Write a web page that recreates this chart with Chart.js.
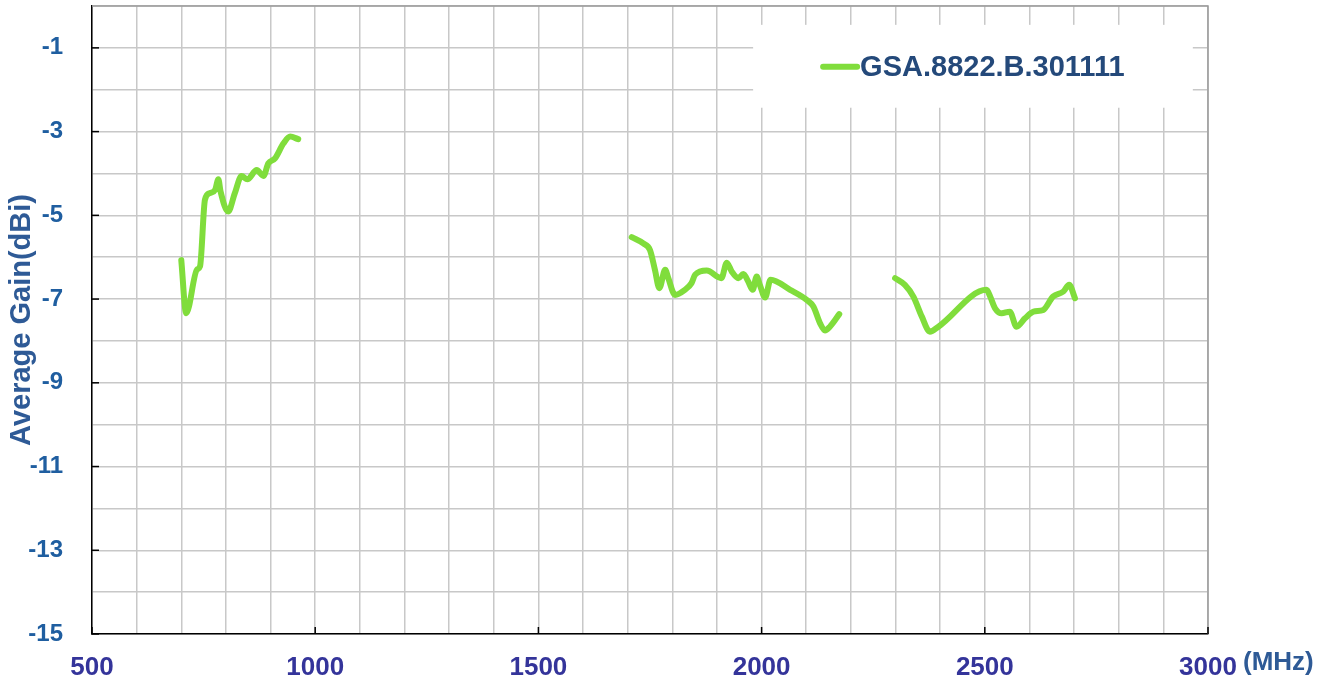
<!DOCTYPE html>
<html><head><meta charset="utf-8">
<script src="https://cdn.jsdelivr.net/npm/chart.js@4/dist/chart.umd.min.js"></script>
<style>html,body{margin:0;padding:0;background:#fff}#wrap{width:1333px;height:683px}</style>
</head><body><div id="wrap"><canvas id="c" width="1333" height="683"></canvas></div>
<script>
const seriesLabel = 'GSA.8822.B.301111';
const band1Freq = [700,711,735,742,753,764,776,783,788,805,820,835,848,869,884,895,910,929,944,962];
const band1Gain = [-6.07,-7.34,-6.30,-6.22,-4.63,-4.47,-4.39,-4.14,-4.43,-4.91,-4.47,-4.06,-4.14,-3.92,-4.06,-3.76,-3.64,-3.28,-3.12,-3.18];
const band2Freq = [1709,1735,1750,1761,1771,1784,1791,1806,1828,1843,1851,1877,1910,1922,1933,1948,1959,1970,1980,1989,1996,2008,2020,2064,2101,2116,2131,2142,2153,2174];
const band2Gain = [-5.52,-5.67,-5.83,-6.30,-6.74,-6.30,-6.50,-6.90,-6.78,-6.62,-6.42,-6.32,-6.50,-6.13,-6.34,-6.50,-6.40,-6.58,-6.78,-6.46,-6.66,-6.96,-6.54,-6.78,-7.02,-7.18,-7.58,-7.75,-7.66,-7.36];
const band3Freq = [2299,2321,2340,2359,2377,2396,2504,2512,2523,2538,2556,2571,2590,2609,2631,2653,2676,2689,2702];
const band3Gain = [-6.50,-6.66,-6.94,-7.42,-7.78,-7.66,-6.78,-6.94,-7.22,-7.34,-7.30,-7.66,-7.46,-7.30,-7.26,-6.94,-6.82,-6.66,-6.98];
const xTickLabels = [500,1000,1500,2000,2500,3000];
const yTickLabels = [-15,-13,-11,-9,-7,-5,-3,-1];

function toPts(f,g){return f.map((x,i)=>({x:x,y:g[i]}));}
const data = [].concat(
  toPts(band1Freq,band1Gain), [{x:(band1Freq[band1Freq.length-1]+band2Freq[0])/2,y:null}],
  toPts(band2Freq,band2Gain), [{x:(band2Freq[band2Freq.length-1]+band3Freq[0])/2,y:null}],
  toPts(band3Freq,band3Gain));

const GREEN = '#80dd3c';
const FONT = 'Liberation Sans, Arial, sans-serif';

const extras = {
  id:'extras',
  beforeDatasetsDraw(chart){
    const ctx = chart.ctx, ca = chart.chartArea, xs = chart.scales.x, ys = chart.scales.y;
    ctx.save();
    // frame top/right
    ctx.strokeStyle = '#9a9a9a'; ctx.lineWidth = 1.5;
    ctx.beginPath(); ctx.moveTo(ca.left, ca.top); ctx.lineTo(ca.right, ca.top); ctx.lineTo(ca.right, ca.bottom); ctx.stroke();
    // tick marks
    ctx.strokeStyle = '#000'; ctx.lineWidth = 1.5;
    yTickLabels.forEach(v=>{const y=ys.getPixelForValue(v);ctx.beginPath();ctx.moveTo(ca.left,y);ctx.lineTo(ca.left+7,y);ctx.stroke();});
    xTickLabels.forEach(v=>{const x=xs.getPixelForValue(v);ctx.beginPath();ctx.moveTo(x,ca.bottom);ctx.lineTo(x,ca.bottom-7);ctx.stroke();});
    // legend box
    const bx = xs.getPixelForValue(1981), by = ys.getPixelForValue(-0.45);
    const bx2 = xs.getPixelForValue(2966), by2 = ys.getPixelForValue(-2.43);
    ctx.fillStyle = '#fff';
    ctx.fillRect(bx, by, bx2-bx, by2-by);
    const ly = ys.getPixelForValue(-1.45);
    ctx.strokeStyle = GREEN; ctx.lineWidth = 6; ctx.lineCap = 'round';
    ctx.beginPath(); ctx.moveTo(bx+70, ly); ctx.lineTo(bx+104, ly); ctx.stroke();
    ctx.fillStyle = '#24497a';
    ctx.font = 'bold 29px ' + FONT;
    ctx.textBaseline = 'middle'; ctx.textAlign = 'left';
    ctx.fillText(seriesLabel, bx+107, ly+1);
    ctx.restore();
  },
  afterDraw(chart){
    const ctx = chart.ctx, xs = chart.scales.x;
    ctx.save();
    ctx.fillStyle = '#2e5a96';
    ctx.font = 'bold 26px ' + FONT;
    ctx.textBaseline = 'middle'; ctx.textAlign = 'left';
    ctx.fillText('(MHz)', xs.getPixelForValue(3000)+35, chart.chartArea.bottom+29);
    ctx.restore();
  }
};

new Chart(document.getElementById('c'), {
  type:'line',
  data:{datasets:[{label:seriesLabel, data:data, borderColor:GREEN, backgroundColor:GREEN,
    borderWidth:6, pointRadius:0, spanGaps:false, cubicInterpolationMode:'monotone', borderCapStyle:'round', borderJoinStyle:'round'}]},
  options:{
    responsive:false, animation:false,
    layout:{padding:{top:6,right:125,left:0,bottom:0}},
    plugins:{legend:{display:false}, tooltip:{enabled:false}},
    scales:{
      x:{type:'linear', min:500, max:3000,
        grid:{color:'#c8c8c8', lineWidth:1.5, drawTicks:false},
        border:{color:'#000', width:1.5},
        afterBuildTicks(s){const t=[];for(let v=500;v<=3000;v+=100)t.push({value:v});s.ticks=t;},
        ticks:{autoSkip:false, maxRotation:0, padding:18, color:'#34349a', font:{family:FONT,size:26,weight:'bold'},
          callback:(v)=>xTickLabels.includes(v)?String(v):''},
        afterFit(s){s.height=49; s.paddingLeft=0; s.paddingRight=0;}
      },
      y:{type:'linear', min:-15, max:0,
        grid:{color:'#c8c8c8', lineWidth:1.5, drawTicks:false},
        border:{color:'#000', width:1.5},
        afterBuildTicks(s){const t=[];for(let v=-15;v<=0;v+=1)t.push({value:v});s.ticks=t;},
        ticks:{autoSkip:false, padding:29, color:'#1f5ea0', font:{family:FONT,size:24,weight:'bold'},
          callback:(v)=>yTickLabels.includes(v)?String(v):''},
        title:{display:true, text:'Average Gain(dBi)', color:'#2e5a96', font:{family:FONT,size:29,weight:'bold'}, padding:{top:5,bottom:0}},
        afterFit(s){s.width=92; s.paddingTop=0; s.paddingBottom=0;}
      }
    }
  },
  plugins:[extras]
});
</script></body></html>
